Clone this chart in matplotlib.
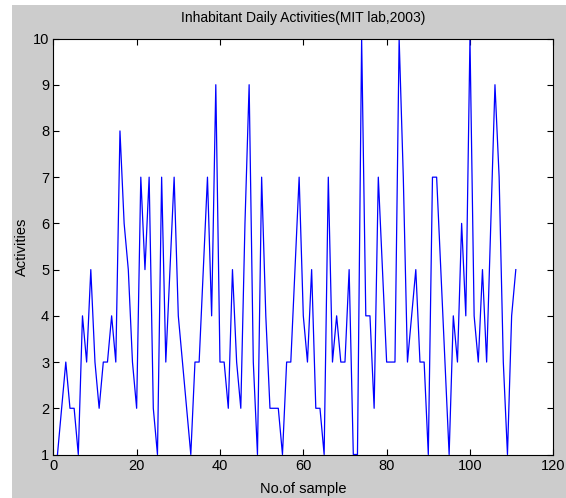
import matplotlib
matplotlib.use('Agg')
import matplotlib.pyplot as plt
from matplotlib.patches import Rectangle

# activity level per sample
samples = list(range(1, 112))
activities = [1, 2, 3, 2, 2, 1, 4, 3, 5, 3,
              2, 3, 3, 4, 3, 8, 6, 5, 3, 2,
              7, 5, 7, 2, 1, 7, 3, 5, 7, 4,
              3, 2, 1, 3, 3, 5, 7, 4, 9, 3,
              3, 2, 5, 3, 2, 6, 9, 3, 1, 7,
              4, 2, 2, 2, 1, 3, 3, 5, 7, 4,
              3, 5, 2, 2, 1, 7, 3, 4, 3, 3,
              5, 1, 1, 10, 4, 4, 2, 7, 5, 3,
              3, 3, 10, 7, 3, 4, 5, 3, 3, 1,
              7, 7, 5, 3, 1, 4, 3, 6, 4, 10,
              4, 3, 5, 3, 6, 9, 7, 3, 1, 4,
              5]
xticks = [0, 20, 40, 60, 80, 100, 120]
yticks = list(range(1, 11))

plt.rcParams['font.family'] = ['Liberation Sans', 'DejaVu Sans']
plt.rcParams['font.size'] = 10

fig = plt.figure(figsize=(5.66, 4.98), dpi=100, facecolor='white')
# grey MATLAB figure area (screenshot has a thin white edge top/left)
fig.patches.append(Rectangle((12 / 566, 0), 1 - 12 / 566, 1 - 5 / 498,
                             transform=fig.transFigure, facecolor='#cccccc',
                             edgecolor='none', zorder=-10))

ax = fig.add_axes([53.3 / 566, 43.5 / 498, 500 / 566, 416 / 498])
ax.plot(samples, activities, color='#0000ff', lw=0.9)
ax.set_xlim(0, 120)
ax.set_ylim(1, 10)
ax.set_xticks(xticks)
ax.set_yticks(yticks)
ax.tick_params(direction='in', top=True, right=True, length=4, width=0.8,
               labelsize=10.5, pad=3)
for s in ax.spines.values():
    s.set_linewidth(0.8)

ax.set_title('Inhabitant Daily Activities(MIT lab,2003)', fontsize=10, pad=12)
ax.set_xlabel('No.of sample', fontsize=10.5, labelpad=7)
ax.set_ylabel('Activities', fontsize=10.5, labelpad=3)

fig.savefig('out.png', dpi=100, facecolor=fig.get_facecolor())
